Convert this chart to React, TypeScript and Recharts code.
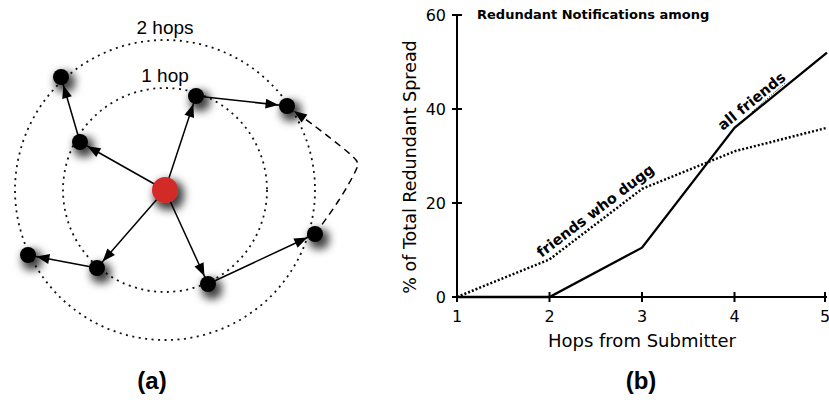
import React from 'react';
import { ScatterChart, Scatter, XAxis, YAxis, LineChart, Line, Label, ReferenceLine } from 'recharts';

// ---------- (a) spread diagram: submitter, 1-hop and 2-hop friends ----------
const submitter = [{ id: 's', x: 165, y: 190 }];
const firstHop = [
  { id: 'f1', x: 80, y: 142 },
  { id: 'f2', x: 196, y: 96 },
  { id: 'f3', x: 97, y: 268 },
  { id: 'f4', x: 208, y: 284 },
];
const secondHop = [
  { id: 'g1', x: 61, y: 77 },
  { id: 'g2', x: 287, y: 106 },
  { id: 'g3', x: 28, y: 255 },
  { id: 'g4', x: 315, y: 234 },
];
const hopRings = [
  { x: 165, y: 190, r: 102, label: '1 hop' },
  { x: 165, y: 190, r: 150, label: '2 hops' },
];
// redundant notification from g4 back to g2
const redundantPath = [
  { x: 315, y: 234 },
  { x: 339, y: 200 },
  { x: 356, y: 170 },
  { x: 350, y: 154 },
  { x: 312, y: 124 },
  { x: 287, y: 106 },
];

// ---------- (b) redundant spread by hop distance ----------
const hops = [1, 2, 3, 4, 5];
const allFriends = [0, 0, 10.5, 36, 52];
const friendsWhoDugg = [0, 8, 23, 31, 36];
const yTicks = [0, 20, 40, 60];

const spreadData = hops.map((h, i) => ({
  hop: h,
  allFriends: allFriends[i],
  friendsWhoDugg: friendsWhoDugg[i],
}));

type Pt = { x: number; y: number };
const edgeData = (a: Pt, b: Pt) => [
  { x: a.x, y: a.y, head: false },
  { x: b.x, y: b.y, head: true, fx: a.x, fy: a.y },
];
const edges = [
  ...firstHop.map((n) => edgeData(submitter[0], n)),
  ...firstHop.map((n, i) => edgeData(n, secondHop[i])),
];
const redundantData = redundantPath.map((p, i) =>
  i === redundantPath.length - 1
    ? { ...p, head: true, fx: redundantPath[i - 1].x, fy: redundantPath[i - 1].y }
    : { ...p, head: false }
);

const NODE_R = 8;
const HUB_R = 13;
const SANS = '"Liberation Sans", Arial, sans-serif';
const CHART_FONT = '"DejaVu Sans", Verdana, sans-serif';

function ArrowHead(props: any) {
  const { cx, cy, payload } = props;
  if (!payload || !payload.head) return <g />;
  const dx = payload.x - payload.fx;
  const dy = payload.y - payload.fy;
  const len = Math.hypot(dx, dy) || 1;
  const ux = dx / len;
  const uy = dy / len;
  const tipX = cx - ux * (NODE_R + 0.5);
  const tipY = cy - uy * (NODE_R + 0.5);
  const L = 13;
  const W = 5;
  const bx = tipX - ux * L;
  const by = tipY - uy * L;
  const pts = `${tipX},${tipY} ${bx - uy * W},${by + ux * W} ${bx + uy * W},${by - ux * W}`;
  return <polygon points={pts} fill="#000" />;
}

const makeNode = (r: number, fill: string) => (props: any) => {
  const { cx, cy, payload } = props;
  const fid = `shadow-${payload.id}`;
  return (
    <g>
      <defs>
        <filter id={fid} x="-200%" y="-200%" width="500%" height="500%">
          <feMorphology in="SourceAlpha" operator="dilate" radius="2" />
          <feGaussianBlur stdDeviation="4" />
          <feOffset dx="4" dy="5" result="blur" />
          <feFlood floodColor="#000" floodOpacity="0.75" />
          <feComposite in2="blur" operator="in" />
          <feMerge>
            <feMergeNode />
            <feMergeNode in="SourceGraphic" />
          </feMerge>
        </filter>
      </defs>
      <circle cx={cx} cy={cy} r={r} fill={fill} filter={`url(#${fid})`} />
    </g>
  );
};

function Ring(props: any) {
  const { cx, cy, payload } = props;
  return (
    <g>
      <circle
        cx={cx}
        cy={cy}
        r={payload.r}
        fill="none"
        stroke="#111"
        strokeWidth={1.8}
        strokeDasharray="2 4.5"
      />
      <text
        x={cx}
        y={cy - payload.r - 6}
        textAnchor="middle"
        fontFamily={SANS}
        fontSize={19}
        fill="#000"
      >
        {payload.label}
      </text>
    </g>
  );
}

// rotated series label placed along one segment of a line
const segmentLabel = (text: string, segIndex: number, along: number, lift: number) => (props: any) => {
  const { index, points } = props;
  if (index !== segIndex || !points || !points[index + 1]) return <g key={`d-${index}`} />;
  const p0 = points[index];
  const p1 = points[index + 1];
  const dx = p1.x - p0.x;
  const dy = p1.y - p0.y;
  const len = Math.hypot(dx, dy) || 1;
  const ux = dx / len;
  const uy = dy / len;
  const x = p0.x + ux * along + uy * lift;
  const y = p0.y + uy * along - ux * lift;
  const angle = (Math.atan2(dy, dx) * 180) / Math.PI;
  return (
    <text
      key={`d-${index}`}
      x={x}
      y={y}
      dy="0.35em"
      transform={`rotate(${angle} ${x} ${y})`}
      textAnchor="middle"
      fontFamily={CHART_FONT}
      fontWeight="bold"
      fontSize={14.5}
      fill="#000"
    >
      {text}
    </text>
  );
};

const TICK_GAP = 11;
function YTick(props: any) {
  const { x, y, payload } = props;
  const ax = x + TICK_GAP;
  return (
    <g>
      <line x1={ax - 5} x2={ax + 5} y1={y} y2={y} stroke="#000" strokeWidth={2} />
      <text x={x} y={y} dy="0.36em" textAnchor="end" fontFamily={CHART_FONT} fontSize={16} fill="#000">
        {payload.value}
      </text>
    </g>
  );
}

const X_GAP = 14;
function XTick(props: any) {
  const { x, y, payload } = props;
  const ay = y - X_GAP;
  return (
    <g>
      <line x1={x} x2={x} y1={ay - 5} y2={ay + 5} stroke="#000" strokeWidth={2} />
      <text x={x} y={y} dy="0.71em" textAnchor="middle" fontFamily={CHART_FONT} fontSize={16} fill="#000">
        {payload.value}
      </text>
    </g>
  );
}

export default function App() {
  return (
    <div
      style={{
        position: 'absolute',
        left: 0,
        top: 0,
        width: 829,
        height: 400,
        background: '#fff',
        overflow: 'hidden',
      }}
    >
      {/* (a) */}
      <div style={{ position: 'absolute', left: 0, top: 0 }}>
        <ScatterChart width={380} height={400} margin={{ top: 0, right: 0, bottom: 0, left: 0 }}>
          <XAxis type="number" dataKey="x" domain={[0, 380]} hide />
          <YAxis type="number" dataKey="y" domain={[0, 400]} reversed hide />
          <Scatter data={hopRings} shape={Ring} isAnimationActive={false} />
          {edges.map((d, i) => (
            <Scatter
              key={`edge-${i}`}
              data={d}
              fill="#000"
              line={{ stroke: '#000', strokeWidth: 1.5 }}
              shape={ArrowHead}
              isAnimationActive={false}
            />
          ))}
          <Scatter
            data={redundantData}
            fill="#000"
            line={{ stroke: '#000', strokeWidth: 1.5, strokeDasharray: '7 5' }}
            lineJointType="natural"
            shape={ArrowHead}
            isAnimationActive={false}
          />
          <Scatter data={[...firstHop, ...secondHop]} shape={makeNode(NODE_R, '#000')} isAnimationActive={false} />
          <Scatter data={submitter} shape={makeNode(HUB_R, '#d22b26')} isAnimationActive={false} />
        </ScatterChart>
      </div>

      {/* (b) */}
      <div style={{ position: 'absolute', left: 380, top: 0 }}>
        <LineChart width={449} height={400} data={spreadData} margin={{ top: 15, right: 2, bottom: 43, left: 0 }}>
          <XAxis
            dataKey="hop"
            type="number"
            domain={[1, 5]}
            ticks={hops}
            tickSize={0}
            tickMargin={X_GAP}
            tickLine={false}
            tick={<XTick />}
            axisLine={{ stroke: '#000', strokeWidth: 2 }}
            height={60}
            label={
              <Label
                content={(p: any) => {
                  const vb = p.viewBox || { x: 77, y: 297, width: 370 };
                  return (
                    <text
                      x={vb.x + vb.width / 2}
                      y={vb.y + 50}
                      textAnchor="middle"
                      fontFamily={CHART_FONT}
                      fontSize={18}
                      fill="#000"
                    >
                      Hops from Submitter
                    </text>
                  );
                }}
              />
            }
          />
          <YAxis
            type="number"
            domain={[0, 60]}
            ticks={yTicks}
            width={77}
            tickSize={0}
            tickMargin={TICK_GAP}
            tickLine={false}
            tick={<YTick />}
            axisLine={{ stroke: '#000', strokeWidth: 2 }}
            label={
              <Label
                content={(p: any) => {
                  const vb = p.viewBox || { x: 0, y: 15, height: 282 };
                  const x = vb.x + 30;
                  const y = vb.y + vb.height / 2 + 11;
                  return (
                    <text
                      x={x}
                      y={y}
                      dy="0.35em"
                      transform={`rotate(-90 ${x} ${y})`}
                      textAnchor="middle"
                      fontFamily={CHART_FONT}
                      fontSize={17.5}
                      fill="#000"
                    >
                      % of Total Redundant Spread
                    </text>
                  );
                }}
              />
            }
          />
          <ReferenceLine
            segment={[
              { x: 4.19, y: 39.4 },
              { x: 4.56, y: 45.7 },
            ]}
            stroke="#000"
            strokeWidth={1}
            strokeDasharray="1 1.5"
          />
          <Line
            dataKey="friendsWhoDugg"
            stroke="#000"
            strokeWidth={2.5}
            strokeDasharray="2 2"
            dot={segmentLabel('friends who dugg', 1, 66, 11)}
            activeDot={false}
            isAnimationActive={false}
          />
          <Line
            dataKey="allFriends"
            stroke="#000"
            strokeWidth={2.3}
            dot={segmentLabel('all friends', 3, 30, 10)}
            activeDot={false}
            isAnimationActive={false}
          />
        </LineChart>
      </div>

      <div
        style={{
          position: 'absolute',
          left: 477,
          top: 7,
          fontFamily: CHART_FONT,
          fontWeight: 'bold',
          fontSize: 13,
          lineHeight: '16px',
          whiteSpace: 'nowrap',
        }}
      >
        Redundant Notifications among
      </div>
      <div
        style={{
          position: 'absolute',
          left: 52,
          width: 200,
          top: 366,
          textAlign: 'center',
          fontFamily: SANS,
          fontWeight: 'bold',
          fontSize: 24,
          lineHeight: '30px',
        }}
      >
        (a)
      </div>
      <div
        style={{
          position: 'absolute',
          left: 541,
          width: 200,
          top: 366,
          textAlign: 'center',
          fontFamily: SANS,
          fontWeight: 'bold',
          fontSize: 24,
          lineHeight: '30px',
        }}
      >
        (b)
      </div>
    </div>
  );
}
